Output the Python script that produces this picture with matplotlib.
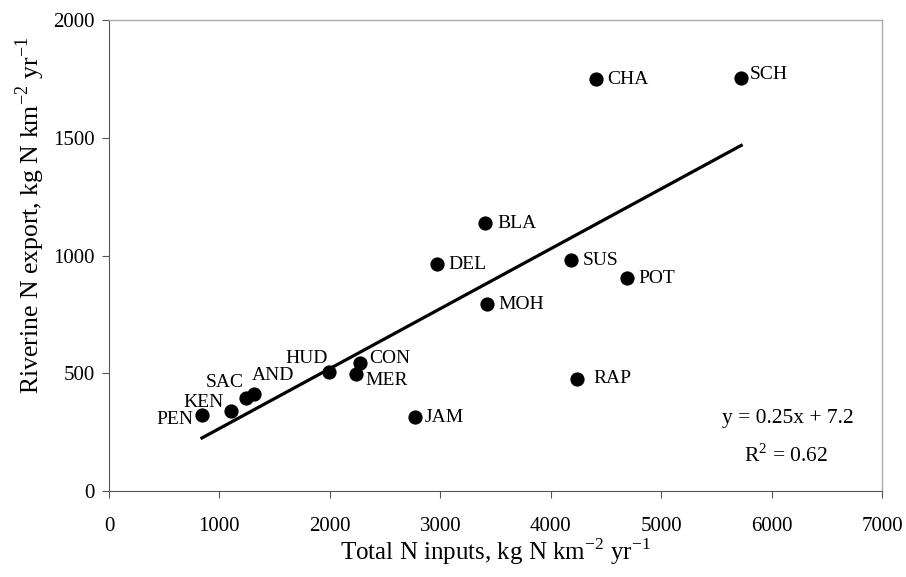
import numpy as np
import matplotlib
matplotlib.use("Agg")
import matplotlib.pyplot as plt

plt.rcParams['font.family'] = ['Liberation Serif', 'DejaVu Serif']
plt.rcParams['mathtext.fontset'] = 'custom'
plt.rcParams['mathtext.rm'] = 'Liberation Serif'

names = ["PEN", "KEN", "SAC", "AND", "HUD", "CON", "MER", "JAM",
         "DEL", "MOH", "BLA", "SUS", "POT", "RAP", "CHA", "SCH"]
n_inputs = [842, 1105, 1241, 1313, 1993, 2274, 2237, 2772,
            2971, 3424, 3406, 4185, 4692, 4239, 4411, 5725]
n_export = [323, 340, 395, 412, 506, 544, 497, 314,
            964, 794, 1138, 980, 904, 476, 1750, 1755]

# label placement (offset in points, horizontal alignment)
label_pos = {
    "PEN": ((-6.5, -3.6), "right"), "KEN": ((-5, 6), "right"),
    "SAC": ((-1.5, 11), "right"), "AND": ((-1.5, 13), "left"),
    "HUD": ((-1, 9.5), "right"), "CON": ((6.5, 3), "left"),
    "MER": ((7, -4.5), "left"), "JAM": ((7, 0), "left"),
    "DEL": ((8, 0), "left"), "MOH": ((8, 0), "left"),
    "BLA": ((8.5, 0), "left"), "SUS": ((8.5, 0), "left"),
    "POT": ((8, 0), "left"), "RAP": ((11.5, 0), "left"),
    "CHA": ((8, -0.5), "left"), "SCH": ((6.5, 2), "left"),
}

fig = plt.figure(figsize=(9.06, 5.77), dpi=100)
ax = fig.add_axes([0.1203, 0.149, 0.8532, 0.8163])

x = np.array(n_inputs, dtype=float)
y = np.array(n_export, dtype=float)
slope, intercept = np.polyfit(x, y, 1)
xl = np.array([x.min(), x.max()])
ax.plot(xl, slope * xl + intercept, color='black', lw=2.3, zorder=2)

ax.scatter(x, y, s=105, color='black', zorder=3, linewidths=0)

for nm, xi, yi in zip(names, x, y):
    off, ha = label_pos[nm]
    ax.annotate(nm, (xi, yi), xytext=off, textcoords='offset points',
                ha=ha, va='center', fontsize=14)

ax.text(0.878, 0.155, "y = 0.25x + 7.2", transform=ax.transAxes,
        ha='center', va='center', fontsize=15.5)
ax.text(0.876, 0.076, r"R$^{2}$ = 0.62", transform=ax.transAxes,
        ha='center', va='center', fontsize=15.5)

ax.set_xlim(0, 7000)
ax.set_ylim(0, 2000)
ax.set_xticks(range(0, 7001, 1000))
ax.set_yticks(range(0, 2001, 500))
ax.tick_params(direction='out', length=5, width=0.8, color='#555555',
               labelsize=15, pad=14)
ax.tick_params(axis='y', pad=5)
for s in ['left', 'bottom']:
    ax.spines[s].set_color('#555555')
    ax.spines[s].set_linewidth(0.8)
for s in ['top', 'right']:
    ax.spines[s].set_color('#aaaaaa')
    ax.spines[s].set_linewidth(1.0)

ax.set_xlabel(r"Total N inputs, kg N km$^{-2}$ yr$^{-1}$", fontsize=18, labelpad=0)
ax.set_ylabel(r"Riverine N export, kg N km$^{-2}$ yr$^{-1}$", fontsize=18.5)
ax.yaxis.set_label_coords(-0.080, 0.586)

fig.savefig("out.png", dpi=100)
